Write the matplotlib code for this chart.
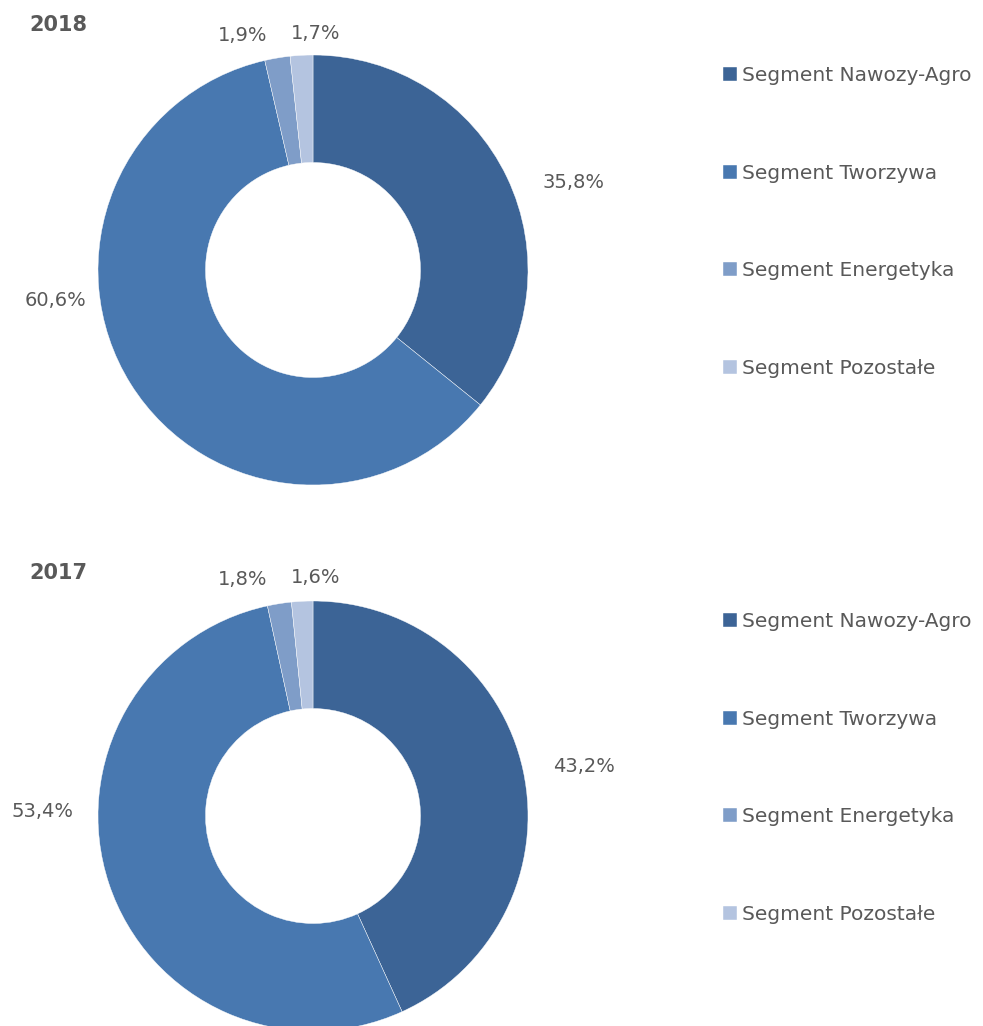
import matplotlib.pyplot as plt

W, H = 983, 1026

segments = ["Segment Nawozy-Agro", "Segment Tworzywa", "Segment Energetyka", "Segment Pozostałe"]
colors = ["#3c6496", "#4878b0", "#7f9dc8", "#b4c4e0"]

years = ["2018", "2017"]
shares_2018 = [35.8, 60.6, 1.9, 1.7]
shares_2017 = [43.2, 53.4, 1.8, 1.6]

# label placement (in units of the outer radius)
lab_pos_2018 = [(1.21, 0.405), (-1.20, -0.14), (-0.326, 1.093), (0.014, 1.10)]
lab_pos_2017 = [(1.26, 0.228), (-1.26, 0.019), (-0.326, 1.098), (0.014, 1.107)]

txt = "#595959"
plt.rcParams['font.family'] = ['DejaVu Sans']

fig = plt.figure(figsize=(W / 100, H / 100), dpi=100)

R = 215
def draw(cy, title, ty, shares, labpos, leg_y):
    ax = fig.add_axes([(313 - R) / W, (H - cy - R) / H, 2 * R / W, 2 * R / H])
    wedges, _ = ax.pie(shares, colors=colors, startangle=90, counterclock=False,
                       radius=1, wedgeprops=dict(width=0.5, edgecolor="white", linewidth=0.3))
    ax.set_xlim(-1, 1)
    ax.set_ylim(-1, 1)
    ax.set_aspect("equal")
    ax.axis("off")
    for v, (x, y) in zip(shares, labpos):
        ax.text(x, y, f"{v:.1f}%".replace(".", ","), ha="center", va="center",
                fontsize=14, color=txt, clip_on=False)
    fig.text(58 / W, 1 - ty / H, title, ha="center", va="center",
             fontsize=15, fontweight="bold", color=txt)
    fig.legend(wedges, segments, loc="upper left", bbox_to_anchor=(713 / W, 1 - leg_y / H),
               frameon=False, fontsize=14.5, labelcolor=txt, handlelength=0.7,
               handleheight=0.7, handletextpad=0.25, labelspacing=3.9, borderpad=0)

draw(270, years[0], 25, shares_2018, lab_pos_2018, 56)
draw(816, years[1], 573, shares_2017, lab_pos_2017, 602)

fig.savefig("out.png", dpi=100)
